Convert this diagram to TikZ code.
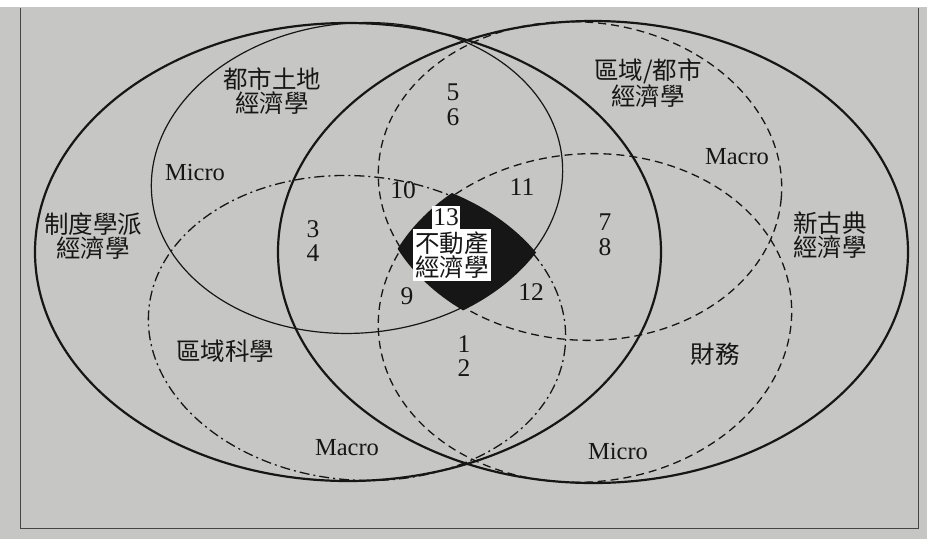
\documentclass[tikz,border=0pt]{standalone}
\usepackage{fontspec}
\setmainfont{Liberation Serif}
\newfontfamily\cjk{Noto Sans CJK TC}
\definecolor{paper}{RGB}{198,199,196}
\definecolor{ink}{RGB}{22,22,22}
\tikzset{
  bigline/.style={draw=ink, line width=2.2pt},
  thinline/.style={draw=ink, line width=1.2pt},
  dashline/.style={draw=ink, line width=1.3pt, dash pattern=on 8pt off 5pt},
  dashdotline/.style={draw=ink, line width=1.3pt, dash pattern=on 10pt off 4pt on 2pt off 4pt},
  cjklbl/.style={text=ink, font=\cjk\fontsize{24.5}{24}\selectfont, align=center, inner sep=0pt},
  numlbl/.style={text=ink, font=\fontsize{25.5}{24.5}\selectfont, align=center, inner sep=0pt},
  mmlbl/.style={text=ink, font=\fontsize{24.5}{24}\selectfont, inner sep=0pt},
  framelines/.style={draw=ink!80, line width=1pt}
}
\begin{document}
\begin{tikzpicture}[x=1pt,y=-1pt]
\useasboundingbox (0,0) rectangle (927,539);
\fill[paper] (0,0) rectangle (927,539);
\fill[white] (0,0) rectangle (927,7);
\draw[framelines] (20,8) -- (20,528) -- (918,528) -- (918,8);

% ellipse centres
\coordinate (cL) at (348,252);
\coordinate (cR) at (593,252);
\coordinate (cA) at (357,178);
\coordinate (cB) at (357,328);
\coordinate (cC) at (580,181);
\coordinate (cD) at (585,318);

% black core: intersection of the four inner ellipses (slightly inked over)
\begin{scope}
\clip[rotate around={5:(cA)}] (cA) ellipse [x radius=209, y radius=158];
\clip[rotate around={-5:(cB)}] (cB) ellipse [x radius=212, y radius=155];
\clip[rotate around={-5:(cC)}] (cC) ellipse [x radius=205, y radius=162];
\clip[rotate around={5:(cD)}] (cD) ellipse [x radius=210, y radius=167];
\fill[ink] (300,150) rectangle (650,400);
\end{scope}

% big ellipses
\draw[bigline] (cL) ellipse [x radius=313, y radius=229];
\draw[bigline] (cR) ellipse [x radius=315, y radius=231];
% inner ellipses
\draw[thinline, rotate around={5:(cA)}] (cA) ellipse [x radius=206, y radius=155];
\draw[dashdotline, rotate around={-5:(cB)}] (cB) ellipse [x radius=209, y radius=152];
\draw[dashline, rotate around={-5:(cC)}] (cC) ellipse [x radius=202, y radius=159];
\draw[dashline, rotate around={5:(cD)}] (cD) ellipse [x radius=207, y radius=164];

% field labels
\node[cjklbl] (tInst) at (93,236) {制度學派\\經濟學};
\node[cjklbl] (tNeo) at (830,235) {新古典\\經濟學};
\node[cjklbl] (tUrban) at (272,91) {都市土地\\經濟學};
\node[cjklbl] (tRegUrb) at (648,83) {區域/都市\\經濟學};
\node[cjklbl] (tRegSci) at (225,351) {區域科學};
\node[cjklbl] (tFin) at (715,354) {財務};

% micro / macro
\node[mmlbl] (m1) at (195,173) {Micro};
\node[mmlbl] (m2) at (737,157) {Macro};
\node[mmlbl] (m3) at (347,448) {Macro};
\node[mmlbl] (m4) at (618,452) {Micro};

% region numbers
\node[numlbl] (n56) at (453,105) {5\\6};
\node[numlbl] (n34) at (313,241) {3\\4};
\node[numlbl] (n78) at (605,235) {7\\8};
\node[numlbl] (n12) at (464,356) {1\\2};
\node[numlbl] (n10) at (403,190) {10};
\node[numlbl] (n11) at (522,187) {11};
\node[numlbl] (n9) at (407,296) {9};
\node[numlbl] (n12b) at (531,292) {12};

% centre
\node[cjklbl, fill=white, inner sep=2.5pt] (core) at (452,255) {不動產\\經濟學};
\node[numlbl, fill=white, inner xsep=1pt, inner ysep=3pt, anchor=south] (n13) at (core.north -| 446,0) {13};
\end{tikzpicture}
\end{document}
